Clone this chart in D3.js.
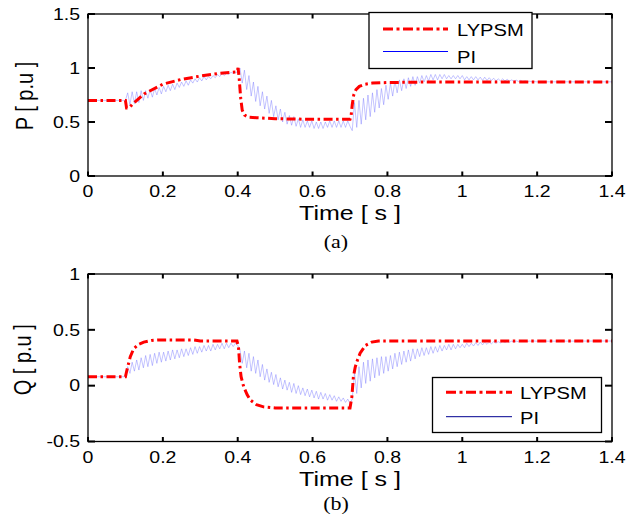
<!DOCTYPE html>
<html><head><meta charset="utf-8">
<script src="https://cdn.jsdelivr.net/npm/d3@7"></script>
<style>html,body{margin:0;padding:0;background:#fff;}svg{display:block;}</style>
</head><body>
<svg id="chart" width="628" height="525"></svg>
<script>
// ---------- data ----------
const xTicks = [0, 0.2, 0.4, 0.6, 0.8, 1, 1.2, 1.4];
const xTickLabels = ["0", "0.2", "0.4", "0.6", "0.8", "1", "1.2", "1.4"];
const pTicks = [0, 0.5, 1, 1.5];
const pTickLabels = ["0", "0.5", "1", "1.5"];
const qTicks = [-0.5, 0, 0.5, 1];
const qTickLabels = ["-0.5", "0", "0.5", "1"];
const seriesNames = ["LYPSM", "PI"];

// LYPSM, active power P
const lyTP = [0, 0.1, 0.103, 0.11, 0.12, 0.15, 0.2, 0.25, 0.3, 0.35, 0.398, 0.401, 0.404, 0.408, 0.412, 0.418, 0.428, 0.45, 0.5, 0.6, 0.7, 0.703, 0.706, 0.71, 0.716, 0.725, 0.74, 0.76, 0.8, 0.9, 1.4];
const lyP  = [0.70, 0.70, 0.63, 0.63, 0.67, 0.76, 0.85, 0.895, 0.925, 0.95, 0.965, 1.00, 0.90, 0.72, 0.61, 0.565, 0.545, 0.54, 0.53, 0.525, 0.525, 0.56, 0.66, 0.75, 0.80, 0.83, 0.85, 0.86, 0.865, 0.87, 0.87];
// LYPSM, reactive power Q
const lyTQ = [0, 0.1, 0.104, 0.113, 0.122, 0.135, 0.149, 0.17, 0.193, 0.28, 0.3, 0.398, 0.402, 0.405, 0.409, 0.416, 0.425, 0.434, 0.45, 0.469, 0.5, 0.7, 0.705, 0.709, 0.714, 0.72, 0.727, 0.741, 0.758, 0.776, 1.4];
const lyQ  = [0.08, 0.08, 0.14, 0.26, 0.33, 0.37, 0.39, 0.405, 0.41, 0.41, 0.40, 0.40, 0.35, 0.20, 0.08, -0.01, -0.08, -0.13, -0.17, -0.19, -0.20, -0.20, -0.10, 0.077, 0.167, 0.23, 0.29, 0.36, 0.39, 0.40, 0.40];

// PI: flat start value, oscillating samples every piDt seconds from piT0, flat end value
const piT0 = 0.1, piDt = 0.006, tEnd = 1.4;
const piPStart = 0.70, piPEnd = 0.872;
const piP = [
0.70,0.77,0.66,0.78,0.67,0.78,0.68,0.79,0.70,0.79,
0.72,0.80,0.73,0.81,0.75,0.82,0.76,0.83,0.78,0.84,
0.79,0.85,0.80,0.86,0.82,0.87,0.83,0.88,0.84,0.89,
0.86,0.90,0.87,0.91,0.88,0.92,0.89,0.92,0.90,0.93,
0.91,0.94,0.92,0.95,0.93,0.95,0.94,0.96,0.95,0.96,
0.96,1.00,0.86,0.98,0.80,0.93,0.74,0.87,0.69,0.83,
0.65,0.78,0.62,0.74,0.58,0.70,0.55,0.65,0.52,0.62,
0.50,0.59,0.48,0.56,0.47,0.55,0.46,0.53,0.45,0.52,
0.45,0.51,0.45,0.51,0.44,0.50,0.44,0.50,0.44,0.50,
0.45,0.51,0.45,0.51,0.45,0.51,0.45,0.51,0.45,0.51,
0.46,0.42,0.68,0.45,0.70,0.48,0.72,0.52,0.75,0.55,
0.77,0.59,0.80,0.63,0.81,0.66,0.84,0.71,0.86,0.74,
0.88,0.77,0.89,0.79,0.90,0.81,0.91,0.83,0.92,0.84,
0.92,0.86,0.93,0.87,0.93,0.88,0.94,0.89,0.94,0.89,
0.94,0.90,0.94,0.90,0.93,0.90,0.93,0.90,0.93,0.90,
0.93,0.89,0.92,0.89,0.92,0.89,0.92,0.89,0.915,0.885,
0.915,0.885,0.91,0.885,0.905,0.88,0.90,0.88,0.90,0.88,
0.895,0.878,0.89,0.877,0.888,0.876,0.885,0.875,0.882,0.874,
0.878,0.873,0.875,0.872];
const piQStart = 0.08, piQEnd = 0.40;
const piQ = [
0.08,0.17,0.11,0.21,0.13,0.23,0.14,0.25,0.16,0.27,
0.17,0.28,0.18,0.29,0.20,0.30,0.21,0.30,0.22,0.31,
0.23,0.32,0.24,0.32,0.25,0.33,0.26,0.33,0.27,0.34,
0.28,0.35,0.29,0.35,0.30,0.36,0.31,0.36,0.31,0.37,
0.32,0.37,0.33,0.38,0.33,0.38,0.34,0.38,0.35,0.38,
0.36,0.32,0.20,0.31,0.16,0.29,0.13,0.26,0.11,0.23,
0.08,0.19,0.05,0.15,0.03,0.12,0.01,0.10,-0.01,0.07,
-0.03,0.05,-0.04,0.03,-0.06,0.02,-0.07,0.00,-0.08,-0.02,
-0.09,-0.03,-0.10,-0.04,-0.11,-0.05,-0.12,-0.06,-0.12,-0.07,
-0.13,-0.08,-0.13,-0.09,-0.14,-0.10,-0.14,-0.11,-0.15,-0.12,
-0.16,-0.12,0.12,-0.07,0.17,-0.02,0.21,0.02,0.23,0.04,
0.24,0.07,0.25,0.09,0.26,0.11,0.26,0.13,0.27,0.15,
0.29,0.17,0.30,0.19,0.31,0.21,0.32,0.22,0.33,0.24,
0.33,0.26,0.34,0.27,0.34,0.28,0.35,0.29,0.35,0.30,
0.36,0.31,0.36,0.32,0.37,0.32,0.37,0.33,0.37,0.34,
0.37,0.34,0.38,0.35,0.38,0.355,0.385,0.36,0.39,0.365,
0.39,0.37,0.39,0.375,0.395,0.38,0.395,0.383,0.398,0.386,
0.398,0.389,0.399,0.391,0.399,0.393,0.399,0.395,0.40,0.396,
0.40,0.397,0.40,0.398];

// ---------- drawing ----------
const svg = d3.select("#chart");
svg.append("rect").attr("width", 628).attr("height", 525).attr("fill", "#fff");
const SX = 1.22; // horizontal stretch of the original figure's text
const sans = "Arial, 'Liberation Sans', sans-serif";
const serif = "'Times New Roman', 'Liberation Serif', serif";

function piSeries(start, arr, end) {
  const pts = [[0, start]];
  arr.forEach((v, i) => pts.push([piT0 + i * piDt, v]));
  pts.push([tEnd, end]);
  return pts;
}

function stretchedText(g, x, y, txt, opts) {
  const t = g.append("text")
    .attr("transform", `translate(${x},${y}) scale(${SX},1)` + (opts.rotate ? ` rotate(${opts.rotate})` : ""))
    .attr("text-anchor", opts.anchor || "start")
    .attr("font-family", opts.family || sans)
    .attr("font-size", opts.size)
    .attr("fill", "#000")
    .text(txt);
  return t;
}

function panel(cfg) {
  const x = d3.scaleLinear().domain([0, 1.4]).range([88, 612]);
  const y = d3.scaleLinear().domain(cfg.yDomain).range([cfg.bottom, cfg.top]);
  const g = svg.append("g");
  const clipId = "clip" + cfg.id;
  svg.append("clipPath").attr("id", clipId).append("rect")
    .attr("x", 88).attr("y", cfg.top).attr("width", 524).attr("height", cfg.bottom - cfg.top);

  const line = d3.line().x(d => x(d[0])).y(d => y(d[1]));
  const piPts = piSeries(cfg.piStart, cfg.pi, cfg.piEnd);
  const lyPts = cfg.lyT.map((t, i) => [t, cfg.ly[i]]);
  const plot = g.append("g").attr("clip-path", `url(#${clipId})`);
  plot.append("path").datum(piPts).attr("d", line)
    .attr("fill", "none").attr("stroke", "#7070ff").attr("stroke-width", 0.7).attr("stroke-opacity", 0.6);
  plot.append("path").datum(lyPts).attr("d", line)
    .attr("fill", "none").attr("stroke", "#ff0000").attr("stroke-width", 3)
    .attr("stroke-dasharray", "9,3.5,2.5,3.5");

  // box
  g.append("rect").attr("x", 88).attr("y", cfg.top).attr("width", 524).attr("height", cfg.bottom - cfg.top)
    .attr("fill", "none").attr("stroke", "#000").attr("stroke-width", 1.3);

  // x ticks (inside, top & bottom)
  xTicks.forEach((t, i) => {
    const xx = x(t);
    g.append("line").attr("x1", xx).attr("x2", xx).attr("y1", cfg.bottom).attr("y2", cfg.bottom - 4.5)
      .attr("stroke", "#000").attr("stroke-width", 2);
    g.append("line").attr("x1", xx).attr("x2", xx).attr("y1", cfg.top).attr("y2", cfg.top + 4.5)
      .attr("stroke", "#000").attr("stroke-width", 2);
    stretchedText(g, xx, cfg.bottom + 21, xTickLabels[i], {anchor: "middle", size: 16});
  });
  // y ticks (inside, left & right)
  cfg.yTicks.forEach((v, i) => {
    const yy = y(v);
    g.append("line").attr("x1", 88).attr("x2", 95).attr("y1", yy).attr("y2", yy)
      .attr("stroke", "#000").attr("stroke-width", 2);
    g.append("line").attr("x1", 612).attr("x2", 605).attr("y1", yy).attr("y2", yy)
      .attr("stroke", "#000").attr("stroke-width", 2);
    stretchedText(g, 80, yy + 5.8, cfg.yTickLabels[i], {anchor: "end", size: 16});
  });

  // axis titles
  stretchedText(g, 350, cfg.bottom + 44, "Time [ s ]", {anchor: "middle", size: 20.5});
  stretchedText(g, cfg.yTitleX, (cfg.top + cfg.bottom) / 2 + cfg.yTitleDy, cfg.yTitle, {anchor: "middle", size: 20, rotate: -90});
  // caption
  stretchedText(g, 336, cfg.captionY, cfg.caption, {anchor: "middle", size: 18, family: serif});

  // legend
  const L = cfg.legend;
  g.append("rect").attr("x", L.x).attr("y", L.y).attr("width", L.w).attr("height", L.h)
    .attr("fill", "#fff").attr("stroke", "#000").attr("stroke-width", 1.3);
  g.append("line").attr("x1", L.lx1).attr("x2", L.lx2).attr("y1", L.y1).attr("y2", L.y1)
    .attr("stroke", "#ff0000").attr("stroke-width", 3).attr("stroke-dasharray", "10,3.5,3,3.5");
  g.append("line").attr("x1", L.lx1).attr("x2", L.lx2).attr("y1", L.y2).attr("y2", L.y2)
    .attr("stroke", L.piColor).attr("stroke-width", 1);
  stretchedText(g, L.tx, L.b1, seriesNames[0], {size: 16.5});
  stretchedText(g, L.tx, L.b2, seriesNames[1], {size: 16.5});
}

panel({
  id: "P", top: 14, bottom: 176, yDomain: [0, 1.5], yTicks: pTicks, yTickLabels: pTickLabels,
  lyT: lyTP, ly: lyP, piStart: piPStart, pi: piP, piEnd: piPEnd,
  yTitle: "P [ p.u ]", yTitleX: 33, yTitleDy: 1, caption: "(a)", captionY: 248,
  legend: {x: 369, y: 12.5, w: 163, h: 56, lx1: 383, lx2: 448, y1: 29, y2: 51.5, tx: 457, b1: 36, b2: 62.5, piColor: "#0000ff"}
});
panel({
  id: "Q", top: 274, bottom: 441.5, yDomain: [-0.5, 1], yTicks: qTicks, yTickLabels: qTickLabels,
  lyT: lyTQ, ly: lyQ, piStart: piQStart, pi: piQ, piEnd: piQEnd,
  yTitle: "Q [ p.u ]", yTitleX: 31, yTitleDy: 2, caption: "(b)", captionY: 510,
  legend: {x: 432.5, y: 377.5, w: 169, h: 55, lx1: 446, lx2: 512, y1: 392.3, y2: 416.7, tx: 520, b1: 399, b2: 424, piColor: "#000090"}
});
</script>
</body></html>
